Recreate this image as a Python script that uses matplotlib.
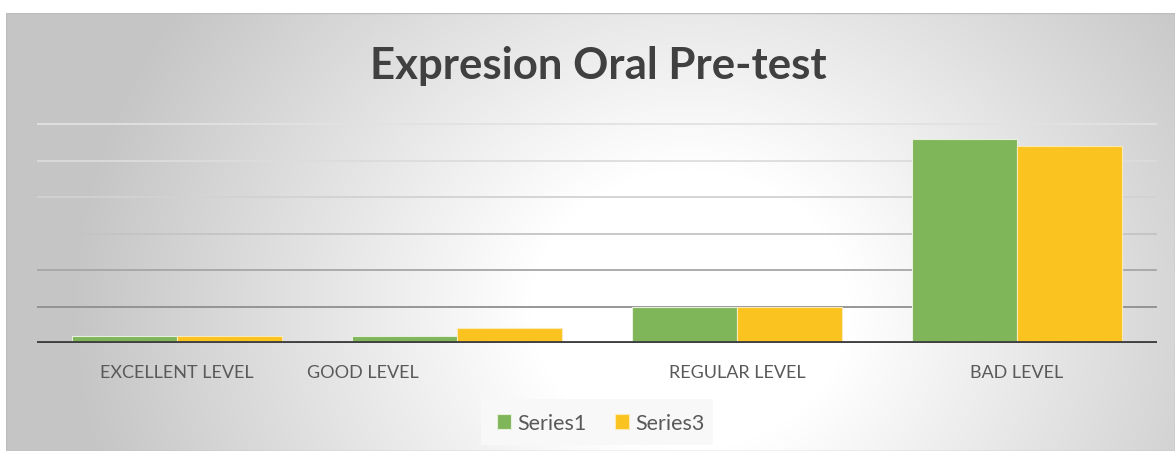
import numpy as np
import matplotlib
matplotlib.use("Agg")
import matplotlib.pyplot as plt
import matplotlib.transforms as mtransforms
from matplotlib.patches import Rectangle

categories = ["EXCELLENT LEVEL", "GOOD LEVEL", "REGULAR LEVEL", "BAD LEVEL"]
series1 = [1, 1, 5, 28]
series3 = [1, 2, 5, 27]
series_names = ["Series1", "Series3"]
title = "Expresion Oral Pre-test"

W, H = 1175, 452
fig = plt.figure(figsize=(W / 100, H / 100), dpi=100)
fig.patch.set_facecolor("white")

# background radial gradient panel
bg = fig.add_axes([6 / W, 0, 1 - 6 / W, 1 - 14 / H], zorder=-10)
yy, xx = np.mgrid[14:H, 6:W]
cx, cy, rx, ry = 690, 310, 640, 560
r = np.sqrt(((xx - cx) / rx) ** 2 + ((yy - cy) / ry) ** 2)
t = np.clip((r - 0.25) / 0.72, 0, 1)
v = 255 - 58 * t ** 1.0
img = np.dstack([v, v, v]) / 255.0
bg.imshow(img, aspect="auto", interpolation="bilinear")
bg.set_axis_off()
bg.add_patch(Rectangle((0, 0), 1, 1, transform=bg.transAxes, fill=False,
                       edgecolor="#bdbdbd", linewidth=1))

# main axes: x 37..1157, y value 0 at 344, 30 at 125
x0, x1 = 37, 1157
ybot, ytop = 344, 125
top_px = 118
ymax = 30 * (ybot - top_px) / (ybot - ytop)
ax = fig.add_axes([x0 / W, (H - ybot) / H, (x1 - x0) / W, (ybot - top_px) / H])
ax.patch.set_alpha(0)

x = np.arange(len(categories))
bw = 0.375
ax.bar(x - bw / 2, series1, width=bw, color="#7FB65A", edgecolor="#e6f0dc",
       linewidth=0.8, label=series_names[0], zorder=3)
ax.bar(x + bw / 2, series3, width=bw, color="#FBC31F", edgecolor="#fbe9b8",
       linewidth=0.8, label=series_names[1], zorder=3)

ax.set_xlim(-0.5, len(categories) - 0.5)
ax.set_ylim(0, ymax)
grid_colors = {5: "#8f8f8f", 10: "#a6a6a6", 15: "#c4c4c4", 20: "#d2d2d2", 25: "#dcdcdc", 30: "#e2e2e2"}
for gv, gc in grid_colors.items():
    ax.axhline(gv, color=gc, linewidth=1.3, zorder=1)
ax.axhline(0, color="#404040", linewidth=3.5, zorder=4)

for s in ax.spines.values():
    s.set_visible(False)
ax.set_yticks([])
ax.set_xticks(x)
ax.set_xticklabels(categories, fontsize=13, color="#595959", family="Lato")
ax.tick_params(axis="x", length=0, pad=15)
# the GOOD LEVEL label sits left of its group in the reference
lbl = ax.get_xticklabels()[1]
lbl.set_transform(lbl.get_transform() + mtransforms.ScaledTranslation(-0.94, 0, fig.dpi_scale_trans))

fig.text(598 / W, 1 - 66 / H, title, ha="center", va="center", fontsize=31.5,
         fontweight="bold", color="#404040", family="Lato")

# legend background box
fig.patches.append(Rectangle((481 / W, 1 - 446 / H), (713 - 481) / W, 46 / H,
                             transform=fig.transFigure, facecolor="#f8f8f8",
                             edgecolor="none", zorder=-5))
leg = fig.legend(loc="center", bbox_to_anchor=(601 / W, 1 - 424 / H), ncol=2,
                 frameon=False, handlelength=0.65, handleheight=0.65,
                 handletextpad=0.3, columnspacing=1.3,
                 prop={"family": "Lato", "size": 15.5})
for t_ in leg.get_texts():
    t_.set_color("#595959")

fig.savefig("out.png", dpi=100)
